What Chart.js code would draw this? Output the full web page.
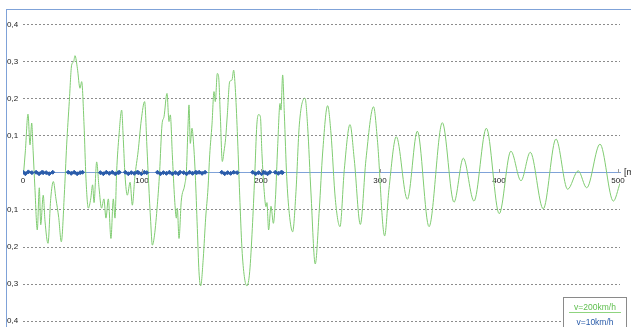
<!DOCTYPE html>
<html>
<head>
<meta charset="utf-8">
<script src="https://cdn.jsdelivr.net/npm/chart.js@4.4.1/dist/chart.umd.min.js"></script>
<style>
    html, body { margin: 0; padding: 0; background: #fff; overflow: hidden; }
    #wrap { position: relative; width: 631px; height: 327px; overflow: hidden; }
    #unit { position: absolute; left: 624px; top: 167px; font: 9px "Liberation Sans", Arial, sans-serif; color: #222; }
    #legend { position: absolute; left: 563px; top: 297px; width: 62px; height: 40px; border: 1px solid #8a8a8a; background: #fff;
              font: 8.5px "Liberation Sans", Arial, sans-serif; }
    #legend .row { position: absolute; left: 0; width: 62px; text-align: center; line-height: 10px; }
    #legend .sep { position: absolute; left: 5px; width: 52px; top: 14px; border-top: 1px solid #8fd47f; }
</style>
</head>
<body>
<div id="wrap">
    <canvas id="chart" width="631" height="327"></canvas>
    <div id="unit">[m]</div>
    <div id="legend">
        <div class="row" style="top:4px;color:#5fbf4f">v=200km/h</div>
        <div class="sep"></div>
        <div class="row" style="top:19px;color:#2a5caa">v=10km/h</div>
    </div>
</div>
<script>
// distance along track [m]
const xTicks = [0, 100, 200, 300, 400, 500];
const yTicks = [-0.4, -0.3, -0.2, -0.1, 0, 0.1, 0.2, 0.3, 0.4];

// v = 200 km/h
const greenDist = [
    0.5, 2, 4.2, 5.9, 7.3, 8.5, 10, 12, 13.7, 14.9, 17, 18.5, 21, 23.3, 25.5, 27.7, 30, 32.2, 34.7, 36.7,
    38.9, 40.9, 42.5, 43.7, 45.7, 47.9, 49.3, 51.3, 52.9, 54.9, 56.9, 58.5, 59.7, 61.9, 63.9, 66, 68, 69.7, 71.7, 73.9,
    75.9, 77.3, 78.7, 80.7, 82.9, 84.3, 85.7, 87.7, 90, 91.9, 94, 96.8, 99.4, 102.2, 104.2, 105.6, 107.3, 108.7, 110.5, 112.9,
    114.8, 116.8, 118.5, 121, 122.7, 123.8, 125.5, 127.4, 128.9, 129.7, 131.1, 133, 135.9, 137.3, 138.7, 139.5, 140.6, 142, 143.4, 144.8,
    146.5, 147.9, 149.3, 151.5, 153.5, 155.5, 156.9, 158.8, 160.5, 161.6, 163.3, 164.4, 165.8, 167.5, 168.9, 170.3, 171.7, 173.7, 175.6, 177,
    178.4, 180.1, 182.1, 184, 186, 188.2, 190.5, 192.7, 194.7, 196.5, 198, 199.5, 200.8, 202.7, 204.2, 205, 206.4, 208.4, 210.4, 212.1,
    214, 216, 216.8, 218.2, 219.6, 221.6, 223.8, 226.6, 229.4, 232.2, 237, 239.2, 242, 245.6, 249, 251.8, 256, 258.8, 262.5, 266.4,
    270, 274.8, 278.4, 283.5, 288.2, 294.6, 297.8, 303.9, 307.5, 313.7, 323, 331.4, 341.2, 352.4, 362.2, 370, 379, 389.4, 400.2, 410,
    418.5, 426.3, 437.2, 447.9, 457.7, 466.6, 473.7, 484.9, 496.1, 501.7
];
const greenVal = [
    0, 0.06, 0.159, 0.076, 0.135, 0.06, -0.04, -0.154, -0.04, -0.14, -0.06, -0.13, -0.19, -0.069, -0.023, -0.07, -0.12, -0.186, -0.06, 0.076,
    0.193, 0.292, 0.3, 0.317, 0.283, 0.229, 0.247, 0.13, -0.014, -0.095, -0.07, -0.032, -0.08, 0.03, -0.04, -0.095, -0.07, -0.122, -0.07, -0.177,
    -0.07, -0.122, 0.004, 0.103, 0.17, 0.09, -0.005, -0.06, -0.025, -0.087, -0.01, 0.06, 0.143, 0.193, 0.067, -0.028, -0.131, -0.195, -0.168, -0.086,
    0.002, 0.13, 0.152, 0.215, 0.139, 0.157, 0.049, -0.07, -0.122, -0.095, -0.177, -0.076, -0.032, 0.005, 0.13, 0.184, 0.08, 0.121, 0.076, -0.005,
    -0.15, -0.267, -0.305, -0.23, -0.122, -0.04, 0.049, 0.13, 0.22, 0.193, 0.269, 0.26, 0.157, 0.031, 0.058, 0.094, 0.157, 0.247, 0.251, 0.278,
    0.229, 0.112, -0.06, -0.204, -0.28, -0.305, -0.267, -0.15, -0.01, 0.13, 0.158, 0.152, 0.053, -0.05, -0.091, -0.08, -0.154, -0.09, -0.136, -0.072,
    0.071, 0.188, 0.17, 0.265, 0.161, -0.01, -0.11, -0.159, -0.05, 0.13, 0.202, 0.126, -0.054, -0.246, -0.099, 0.054, 0.182, 0.108, -0.072, -0.145,
    0.009, 0.131, 0.036, -0.139, 0.036, 0.179, 0.09, -0.17, -0.045, 0.098, -0.071, 0.113, -0.145, 0.136, -0.079, 0.04, -0.076, 0.121, -0.11, 0.059,
    -0.021, 0.056, -0.097, 0.092, -0.044, 0.006, -0.04, 0.078, -0.076, -0.028
];

// v = 10 km/h (only recorded in short stretches, null = gap)
const blueDist = [
    0, 2, 4.5, 7.5, 9, 11, 13.5, 16, 17, 18, 19.5, 22, 25, 30,
    38, 40.5, 43, 45.5, 48, 50, 57, 65, 67.5, 70, 72.5, 75, 77.5, 80, 81, 83,
    86, 88.5, 91, 93.5, 96, 96.5, 97, 99.5, 102, 104, 108,
    113, 115.5, 118, 120.5, 123, 125.5, 128, 130.5, 132, 133.5,
    135, 137.5, 140, 142.5, 145, 146, 147, 148, 150.5, 153, 160,
    167, 169.5, 172, 174.5, 177, 180, 186, 193, 195.5, 198, 200.5, 202, 202.7,
    203.5, 205.5, 207.5, 210, 212, 214.5, 217, 218
];
const blueVal = [
    0.002, -0.002, 0.003, 0.001, null, 0.002, -0.002, 0.002, 0.001, null, 0.001, -0.002, 0.002, null,
    0.002, -0.001, 0.002, -0.002, 0.001, 0.002, null, 0.001, -0.002, 0.002, -0.001, 0.002, -0.002, 0.001, 0.002, null,
    0.002, -0.002, 0.001, -0.001, 0.002, null, 0.001, -0.002, 0.002, 0.001, null,
    0.002, -0.002, 0.001, -0.001, 0.002, -0.002, 0.001, -0.002, 0.002, null,
    0.001, -0.002, 0.002, -0.001, 0.002, 0.001, null, 0.002, -0.001, 0.002, null,
    0.002, -0.002, 0.001, -0.001, 0.002, 0.001, null, 0.002, -0.002, 0.001, -0.002, 0.002, null,
    0.001, -0.002, 0.002, null, 0.002, -0.001, 0.002, 0.001
];

const toPoints = (xs, ys) => xs.map((x, i) => ({ x: x, y: ys[i] }));

const frame = {
    id: 'frame',
    afterDraw(chart) {
        const { ctx, scales } = chart;
        ctx.save();
        ctx.strokeStyle = '#7fa2d8';
        ctx.lineWidth = 1;
        ctx.beginPath();
        ctx.moveTo(6.5, 9);
        ctx.lineTo(6.5, chart.height);
        ctx.moveTo(6, 9.5);
        ctx.lineTo(chart.width, 9.5);
        ctx.stroke();
        // little tick marks standing on the x axis
        const y0 = Math.round(scales.y.getPixelForValue(0));
        ctx.strokeStyle = '#999';
        ctx.beginPath();
        xTicks.slice(1).forEach(v => {
            const px = Math.round(scales.x.getPixelForValue(v)) + 0.5;
            ctx.moveTo(px, y0 - 4);
            ctx.lineTo(px, y0);
        });
        ctx.stroke();
        ctx.restore();
    }
};

new Chart(document.getElementById('chart').getContext('2d'), {
    type: 'line',
    data: {
        datasets: [{
            label: 'v=10km/h',
            data: toPoints(blueDist, blueVal),
            borderColor: '#2a5caa',
            backgroundColor: '#2a5caa',
            borderWidth: 2,
            pointStyle: 'rectRot',
            pointRadius: 2,
            pointBorderWidth: 1,
            pointHoverRadius: 0,
            spanGaps: false,
            order: 0
        }, {
            label: 'v=200km/h',
            data: toPoints(greenDist, greenVal),
            borderColor: '#80cc72',
            borderWidth: 1,
            pointRadius: 0,
            pointHoverRadius: 0,
            cubicInterpolationMode: 'monotone',
            order: 1
        }]
    },
    options: {
        responsive: false,
        animation: false,
        devicePixelRatio: 1,
        events: [],
        layout: { autoPadding: false, padding: { left: 7, top: 9, right: 11, bottom: 0 } },
        plugins: {
            legend: { display: false },
            tooltip: { enabled: false }
        },
        scales: {
            x: {
                type: 'linear',
                min: 0,
                max: 501.7,
                position: { y: 0 },
                afterBuildTicks: scale => { scale.ticks = xTicks.map(v => ({ value: v })); },
                grid: { display: false, drawTicks: false },
                border: { display: true, color: '#7fa2d8', width: 1 },
                ticks: {
                    padding: 3,
                    maxRotation: 0,
                    color: '#222',
                    font: { family: 'Liberation Sans', size: 8 }
                }
            },
            y: {
                min: -0.4162,
                max: 0.4432,
                afterFit: scale => {
                    scale.width = 16;
                    scale.paddingTop = 0;
                    scale.paddingBottom = 0;
                },
                afterBuildTicks: scale => { scale.ticks = yTicks.map(v => ({ value: v })); },
                grid: {
                    drawTicks: false,
                    color: c => c.tick && Math.abs(c.tick.value) < 1e-9 ? 'rgba(0,0,0,0)' : '#8c8c8c',
                    lineWidth: 1
                },
                border: { display: false, dash: [2, 2] },
                ticks: {
                    crossAlign: 'far',
                    padding: 0,
                    color: '#222',
                    font: { family: 'Liberation Sans', size: 8 },
                    callback: v => Math.abs(v) < 1e-9 ? '' : Math.abs(v).toFixed(1).replace('.', ',')
                }
            }
        }
    },
    plugins: [frame]
});
</script>
</body>
</html>
